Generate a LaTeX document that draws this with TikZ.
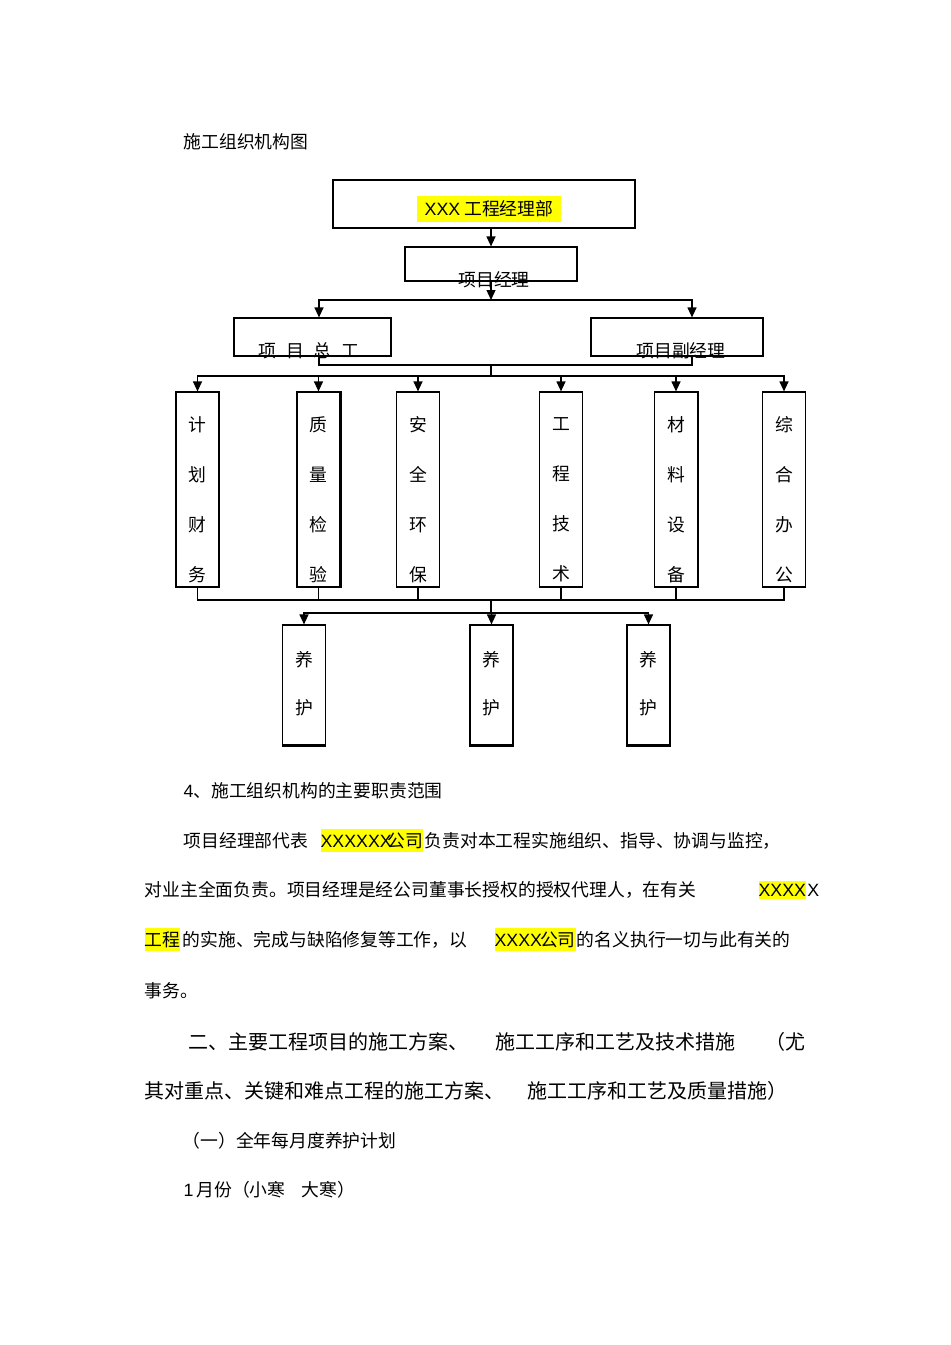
\documentclass[tikz,border=0pt]{standalone}
\usepackage{fontspec}
\setmainfont{Noto Sans CJK SC}
\newfontfamily\latfont{Liberation Sans}
\newcommand\lat[1]{{\latfont #1}}
\usetikzlibrary{arrows.meta}
\definecolor{MarkYellow}{RGB}{255,255,0}
\newcommand\bodyfont{\fontsize{8.9pt}{10pt}\selectfont}
\newcommand\headfont{\fontsize{10pt}{12pt}\selectfont}

\begin{document}
\begin{tikzpicture}[x=0.5pt,y=-0.5pt,>={Triangle[length=5pt,width=4.5pt]},line width=0.6pt,
  box/.style={draw,inner sep=0pt},
  lab/.style={inner sep=0pt,font=\bodyfont},
  vlab/.style={inner sep=0pt,align=center,font=\fontsize{8.9pt}{25pt}\selectfont},
  txt/.style={anchor=base west,inner sep=0pt,font=\bodyfont},
  hl/.style={txt,fill=MarkYellow,inner ysep=1.6pt},
  head/.style={anchor=base west,inner sep=0pt,font=\headfont}]
\useasboundingbox (0,0) rectangle (950,1345);
\node[txt] (title) at (183,148) {施工组织机构图};
% boxes of the chart
\node[box,minimum width=151pt,minimum height=24pt] (bu) at (484,204) {};
\node[lab,fill=MarkYellow,inner xsep=4pt,inner ysep=2.2pt] (bulab) at (489,209) {\lat{XXX} 工程经理部};
\node[box,minimum width=86pt,minimum height=17pt] (jingli) at (491,264) {};
\node[lab] (jinglilab) at (494,280) {项目经理};
\node[box,minimum width=78.5pt,minimum height=19pt] (zong) at (312.5,337) {};
\node[lab] (zonglab) at (309,351) {项\hspace{5pt}目\hspace{5pt}总\hspace{5pt}工};
\node[box,minimum width=86pt,minimum height=19pt] (fu) at (677,337) {};
\node[lab] (fulab) at (681,351) {项目副经理};
\foreach \n/\x/\t in {jhcw/197.5/{计\\划\\财\\务},zljy/318.5/{质\\量\\检\\验},aqhb/418/{安\\全\\环\\保},
    gcjs/561/{工\\程\\技\\术},clsb/676/{材\\料\\设\\备},zhbg/784/{综\\合\\办\\公}}{
  \node[box,minimum width=21.5pt,minimum height=97.5pt] (\n) at (\x,489.5) {};
  \node[vlab] (\n lab) at (\x,499.5) {\t};
}
\draw[line width=1.3pt] (zljy.north east) -- (zljy.south east);
\draw[line width=1.1pt] (clsb.north east) -- (clsb.south east);
\foreach \n/\x in {yh1/304,yh2/491.5,yh3/648.5}{
  \node[box,minimum width=21.5pt,minimum height=60pt] (\n) at (\x,685) {};
  \node[vlab,font=\fontsize{8.9pt}{24pt}\selectfont] (\n lab) at (\x,684) {养\\护};
  \draw[line width=1.4pt] (\n.south west) -- (\n.south east);
}
% connectors
\coordinate (b0) at (491,300);
\coordinate (jl) at (319,300);
\coordinate (jr) at (692,300);
\draw[->] (bu.south -| jingli) -- (jingli.north);
\draw[->] (jingli.south -| b0) -- (b0);
\draw[->] (b0) -| (jl |- zong.north);
\draw[->] (b0) -| (jr |- fu.north);
\coordinate (b1) at (491,365);
\coordinate (b2) at (491,376);
\draw (zong.south -| jl) |- (b1);
\draw (fu.south -| jr) |- (b1);
\draw (b1) -- (b2);
\foreach \n in {jhcw,zljy,aqhb,gcjs,clsb,zhbg}
  \draw[->] (b2) -| (\n.north);
\coordinate (b3) at (491,600);
\coordinate (b4) at (491,613);
\foreach \n in {jhcw,zljy,aqhb,gcjs,clsb,zhbg}
  \draw (\n.south) |- (b3);
\draw (b3) -- (b4);
\foreach \n in {yh1,yh2,yh3}
  \draw[->] (b4) -| (\n.north);
% text below the chart
\node[txt] (s4) at (183,797) {\lat{4}、施工组织机构的主要职责范围};
\node[txt] (p1a) at (183,847) {项目经理部代表};
\node[hl] (p1h) at (320,847) {\lat{XXXXXX}\kern-2pt 公司};
\node[txt] (p1b) at (p1h.base east) {负责对本工程实施组织、指导、协调与监控，};
\node[txt] (p2a) at (144,896) {对业主全面负责。项目经理是经公司董事长授权的授权代理人，在有关};
\node[hl] (p2h) at (758,896) {\lat{XXXX}};
\node[txt] (p2b) at (p2h.base east) {\lat{X}};
\node[hl] (p3h) at (144,946) {工程};
\node[txt] (p3a) at (182,946) {的实施、完成与缺陷修复等工作，以};
\node[hl] (p3i) at (494,946) {\lat{XXXX}\kern-1pt 公司};
\node[txt] (p3b) at (p3i.base east) {的名义执行一切与此有关的};
\node[txt] (p4) at (144,997) {事务。};
\node[head] (h1a) at (188,1049) {二、主要工程项目的施工方案、};
\node[head] (h1b) at (495,1049) {施工工序和工艺及技术措施};
\node[head] (h1c) at (765,1049) {（尤};
\node[head] (h2a) at (144,1098) {其对重点、关键和难点工程的施工方案、};
\node[head] (h2b) at (527,1098) {施工工序和工艺及质量措施）};
\node[txt] (s1) at (182,1147) {（一）全年每月度养护计划};
\node[txt] (m1) at (183,1196) {\lat{1}\,月份（小寒\hspace{8pt}大寒）};
\end{tikzpicture}
\end{document}
